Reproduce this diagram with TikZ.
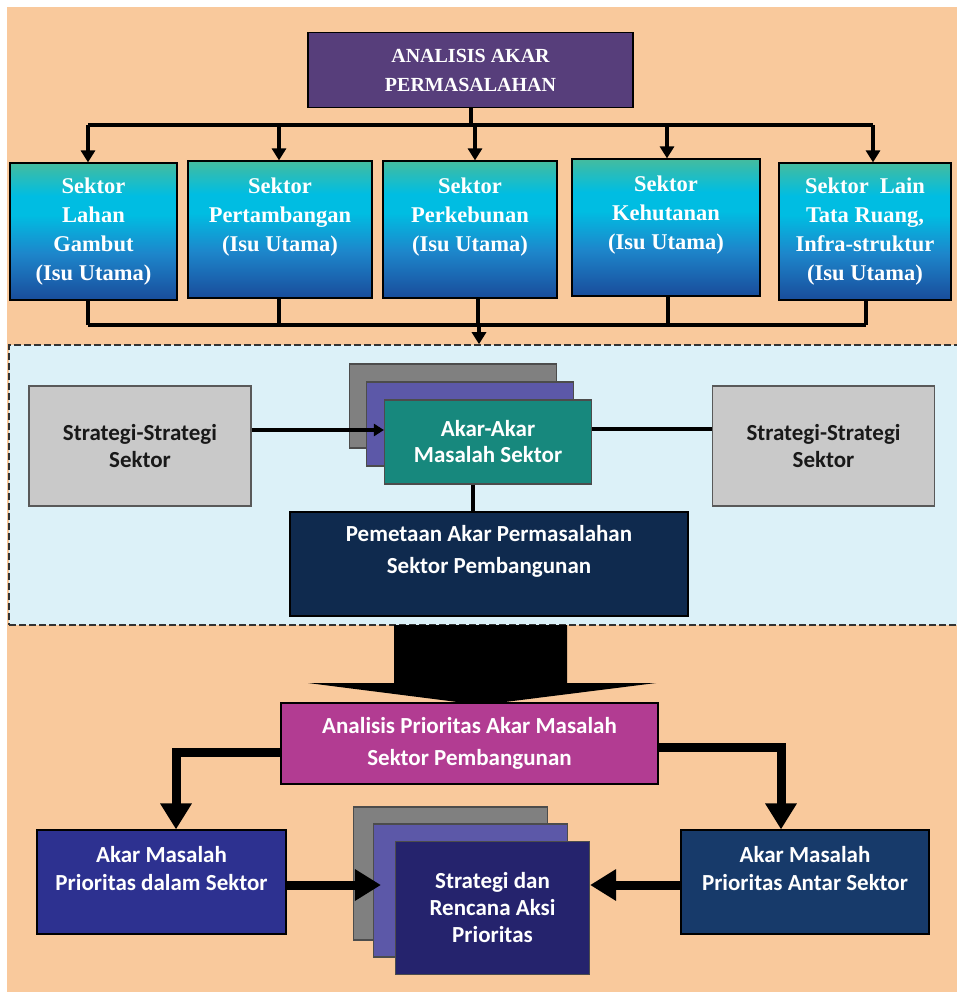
\documentclass[tikz,border=0pt]{standalone}
\usepackage{fontspec}
\setmainfont{Liberation Serif}
\setsansfont{Carlito}
\usetikzlibrary{arrows.meta,positioning}

\definecolor{peach}{HTML}{F9C99C}
\definecolor{paleblue}{HTML}{DCF1F8}
\definecolor{rootpurple}{HTML}{573E7B}
\definecolor{secTop}{HTML}{44BC9F}
\definecolor{secCyan}{HTML}{00BDE2}
\definecolor{secBlue}{HTML}{1D86CB}
\definecolor{secBottom}{HTML}{194C9B}
\definecolor{stratgray}{HTML}{C9C9C9}
\definecolor{sheetgray}{HTML}{808080}
\definecolor{sheetpurple}{HTML}{5C58A8}
\definecolor{sheetteal}{HTML}{17887D}
\definecolor{mapnavy}{HTML}{0F2A4E}
\definecolor{prioMagenta}{HTML}{B23C92}
\definecolor{inblue}{HTML}{2D3190}
\definecolor{internavy}{HTML}{173A6A}
\definecolor{planindigo}{HTML}{25236D}

\pgfdeclareverticalshading{sectorfill}{100bp}{color(0bp)=(secBottom); color(25bp)=(secBottom); color(42bp)=(secBlue); color(56bp)=(secCyan); color(63bp)=(secCyan); color(75bp)=(secTop); color(100bp)=(secTop)}

\begin{document}
\begin{tikzpicture}[x=1pt, y=-1pt,
    box/.style={rectangle, draw=black, line width=1.2pt, inner sep=2pt, align=center},
    rootbox/.style={box, fill=rootpurple, text=white, minimum width=325pt, minimum height=75pt, font=\bfseries\fontsize{20}{29}\selectfont},
    sector/.style={box, shade, shading=sectorfill, text=white, minimum height=137pt, font=\bfseries\fontsize{22.5}{29}\selectfont},
    region/.style={rectangle, draw=black!80, fill=paleblue, dash pattern=on 7pt off 3pt, line width=1.6pt, minimum width=951pt, minimum height=280pt},
    stratbox/.style={box, draw=black!65, line width=1.8pt, fill=stratgray, text=black!90, minimum width=222pt, minimum height=120pt, font=\sffamily\bfseries\fontsize{23}{27}\selectfont},
    sheet/.style={box, draw=black!70, minimum width=207pt, minimum height=84pt, text=white, font=\sffamily\bfseries\fontsize{23}{26}\selectfont},
    plansheet/.style={box, draw=black!70, minimum width=194pt, minimum height=133pt, text=white, font=\sffamily\bfseries\fontsize{23}{27}\selectfont},
    bigbox/.style={box, text=white, font=\sffamily\bfseries\fontsize{23}{32}\selectfont},
    lowbox/.style={box, text=white, minimum width=248pt, minimum height=104pt, font=\sffamily\bfseries\fontsize{23}{28}\selectfont},
    link/.style={line width=4pt},
    arrow/.style={link, -{Triangle[length=12pt,width=14pt]}},
    bigarrow/.style={line width=9pt, -{Triangle[length=26pt,width=30pt]}}
]
\useasboundingbox (0,0) rectangle (957,992);
\fill[peach] (7,7) rectangle (957,992);

\node[rootbox] (root) at (470.5,70) {ANALISIS AKAR\\PERMASALAHAN};

\node[sector, minimum width=167pt] (s1) at (93.5,231.5) {Sektor\\Lahan\\Gambut\\(Isu Utama)};
\node[sector, minimum width=184pt] (s2) at (280,229.5) {Sektor\\Pertambangan\\(Isu Utama)\\\mbox{}};
\node[sector, minimum width=174pt] (s3) at (470,229.5) {Sektor\\Perkebunan\\(Isu Utama)\\\mbox{}};
\node[sector, minimum width=188pt] (s4) at (666,227.5) {Sektor\\Kehutanan\\(Isu Utama)\\\mbox{}};
\node[sector, minimum width=172pt] (s5) at (865,231.5) {Sektor\ \ Lain\\Tata Ruang,\\Infra-struktur\\(Isu Utama)};

\coordinate (bar) at (475,125);
\coordinate (join) at (478,325);
\draw[link] (root.south) -- (root.south |- bar);
\draw[link] ([xshift=-5.5pt]bar -| s1.north) -- ([xshift=8pt]bar -| s5.north);
\foreach \s/\dx in {s1/-5.5,s2/-1,s3/5,s4/1,s5/8}
    \draw[arrow] ([xshift=\dx pt]bar -| \s.north) -- ([xshift=\dx pt]\s.north);

\node[region] (region) at (484.5,485) {};
\foreach \s/\dx in {s1/-5.5,s2/-1,s3/8,s4/2,s5/1}
    \draw[link] ([xshift=\dx pt]\s.south) -- ([xshift=\dx pt]\s.south |- join);
\draw[link] ([xshift=-5.5pt]join -| s1.south) -- ([xshift=1pt]join -| s5.south);
\draw[arrow] ([xshift=1pt]join) -- ([xshift=1pt]join |- region.north);

\node[stratbox] (stratL) at (140,446) {Strategi-Strategi\\Sektor};
\node[stratbox] (stratR) at (823.5,446) {Strategi-Strategi\\Sektor};

\node[sheet, fill=sheetgray] (causeC) at (453,406) {};
\node[sheet, fill=sheetpurple] (causeB) at (470,424) {};
\node[sheet, fill=sheetteal] (cause) at (488,442) {Akar-Akar\\Masalah Sektor};

\node[bigbox, fill=mapnavy, minimum width=398pt, minimum height=104pt] (map) at (489,564) {Pemetaan Akar Permasalahan\\Sektor Pembangunan\\[-3pt]\mbox{}};

\draw[link, -{Triangle[length=10pt,width=12pt]}] ([yshift=16pt]stratL.east) -- ([yshift=16pt]stratL.east -| cause.west);
\draw[link] ([yshift=13pt]cause.east) -- ([yshift=13pt]cause.east -| stratR.west);
\draw[link] ([xshift=-15pt]cause.south) -- ([xshift=-15pt]cause.south |- map.north);

\fill[black] (394,625) -- (567,625) -- (567,683) -- (656,683) -- (481,705) -- (308,683) -- (394,683) -- cycle;

\node[bigbox, fill=prioMagenta, minimum width=377pt, minimum height=81pt] (prio) at (469.5,743.5) {Analisis Prioritas Akar Masalah\\Sektor Pembangunan};

\node[lowbox, fill=inblue, minimum width=249pt] (inner) at (161.5,882) {Akar Masalah\\Prioritas dalam Sektor\\\mbox{}};
\node[lowbox, fill=internavy] (inter) at (805,882) {Akar Masalah\\Prioritas Antar Sektor\\\mbox{}};

\node[plansheet, fill=sheetgray] (planC) at (450.5,873.5) {};
\node[plansheet, fill=sheetpurple] (planB) at (470.5,890.5) {};
\node[plansheet, fill=planindigo] (plan) at (492.5,908) {Strategi dan\\Rencana Aksi\\Prioritas};

\draw[bigarrow] ([yshift=-8.5pt]prio.west) -| ([xshift=14.5pt]inner.north);
\draw[bigarrow] ([yshift=-3.5pt]prio.east) -| ([xshift=-24pt]inter.north);
\draw[bigarrow, shorten >=14pt] ([yshift=-3pt]inner.east) -- ([yshift=-3pt]inner.east -| plan.west);
\draw[bigarrow] ([yshift=-3pt]inter.west) -- ([yshift=-3pt]inter.west -| plan.east);
\end{tikzpicture}
\end{document}
